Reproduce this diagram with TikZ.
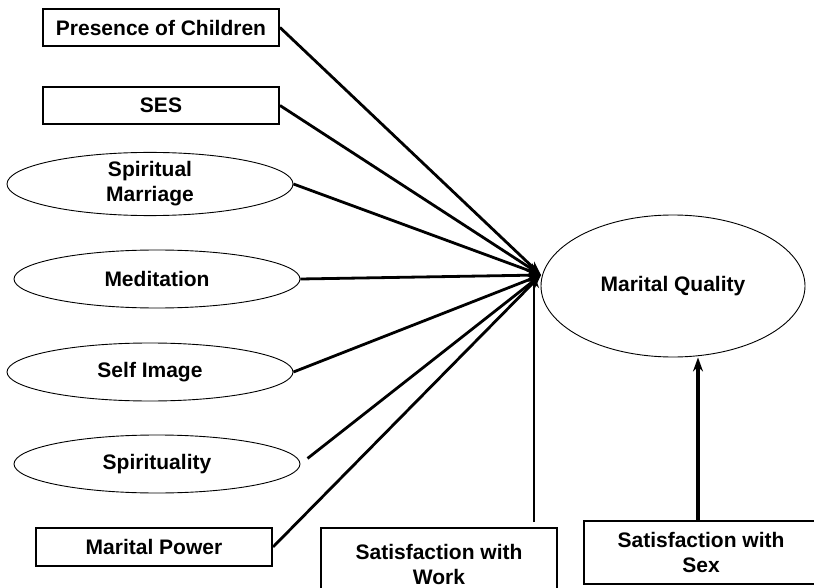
\documentclass[tikz,border=0pt]{standalone}
\usepackage{fontspec}
\setmainfont{Liberation Sans}
\usetikzlibrary{shapes.geometric,arrows.meta}

\tikzset{
  lbl/.style={font=\fontsize{21}{25}\selectfont\bfseries, align=center, inner sep=0pt},
  boxnode/.style={lbl, draw, line width=2pt, rectangle},
  ovalnode/.style={lbl, draw, line width=0.9pt, ellipse},
  link/.style={line width=2.8pt, -{Stealth[length=14pt,width=10pt]}},
}

\begin{document}
\begin{tikzpicture}[x=1pt,y=-1pt]
\useasboundingbox (0,0) rectangle (814,588);
\fill[white] (0,0) rectangle (814,588);

% observed predictors
\node[boxnode, minimum width=236pt, minimum height=37pt] (pc)  at (161,27.5) {Presence of Children};
\node[boxnode, minimum width=236pt, minimum height=37pt] (ses) at (161,105.5) {SES};
\node[boxnode, minimum width=236pt, minimum height=38pt] (mp)  at (154,547) {Marital Power};
\node[boxnode, minimum width=236pt, minimum height=72pt] (work) at (439,564) {Satisfaction with\\Work};
\node[boxnode, minimum width=234pt, minimum height=63pt] (sex)  at (701,552.5) {Satisfaction with\\Sex};

% latent predictors
\node[ovalnode, minimum width=286pt, minimum height=62pt] (sm)  at (150,184) {Spiritual\\Marriage};
\node[ovalnode, minimum width=286pt, minimum height=58pt] (med) at (157,279) {Meditation};
\node[ovalnode, minimum width=286pt, minimum height=58pt] (si)  at (150,372) {Self Image};
\node[ovalnode, minimum width=286pt, minimum height=58pt] (spi) at (157,464) {Spirituality};

% outcome
\node[ovalnode, minimum width=264pt, minimum height=142pt] (mq) at (673,286) {Marital Quality};

% convergence point of the paths
\coordinate (hub) at (541,275);
\coordinate (workout) at (534,522);
\coordinate (workin) at (534,274);

\draw[link] (pc.east) -- (hub);
\draw[link] (ses.east) -- (hub);
\draw[link] (sm.east) -- (hub);
\draw[link] (med.east) -- (hub);
\draw[link] (si.east) -- (hub);
\draw[link, shorten <=9pt] (spi.east) -- (hub);
\draw[link] (mp.east) -- (hub);
\draw[link] (workout) -- (workin);
\draw[link, line width=3.6pt] ([xshift=-3pt]sex.north) -- ([xshift=-3pt]sex.north |- mq.south);
\end{tikzpicture}
\end{document}
